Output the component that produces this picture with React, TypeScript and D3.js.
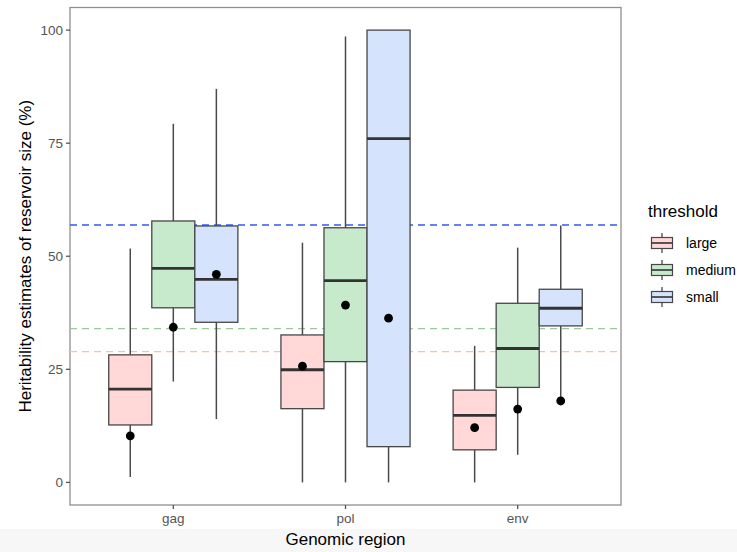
import React from 'react';
import * as d3 from 'd3';

// genomic regions (x) and dodge groups
const regions = ['gag', 'pol', 'env'];
const thresholds = ['large', 'medium', 'small'];
const fills = ['#ffd8d7', '#c6eacb', '#d5e3fd'];

// per region: [lower whisker, q1, median, q3, upper whisker, mean]
const largeStats = [
    [1.2, 12.7, 20.6, 28.2, 51.7, 10.3],
    [0, 16.3, 24.9, 32.6, 53.0, 25.7],
    [0, 7.2, 14.8, 20.4, 30.2, 12.1],
];
const mediumStats = [
    [22.3, 38.6, 47.3, 57.8, 79.3, 34.3],
    [0, 26.7, 44.6, 56.3, 98.6, 39.2],
    [6.1, 21.0, 29.6, 39.6, 51.9, 16.2],
];
const smallStats = [
    [14.0, 35.4, 44.9, 56.7, 87.0, 46.0],
    [0, 7.9, 76.0, 100, 100, 36.3],
    [18.0, 34.6, 38.5, 42.7, 56.8, 18.0],
];

// dashed reference lines
const refValues = [28.9, 34.0, 56.9];
const refColors = ['#f3c3a4', '#9cc89c', '#3358f4'];

const yTicks = [0, 25, 50, 75, 100];

const font = '"Liberation Sans", Arial, Helvetica, sans-serif';

export default function App() {
    const width = 737,
        height = 552;
    const left = 70,
        right = 621,
        top = 7.5,
        bottom = 505;

    const x = d3.scalePoint<string>().domain(regions).range([left, right]).padding(0.6);
    const step = x.step();
    const dodge = d3.scaleBand<string>()
        .domain(thresholds)
        .range([-0.375 * step, 0.375 * step]);
    const y = d3.scaleLinear().domain([-5, 105]).range([bottom, top]);

    const allStats = [largeStats, mediumStats, smallStats];

    return (
        <svg width={width} height={height} style={{ display: 'block', position: 'absolute', left: 0, top: 0 }}
            fontFamily={font}>
            <rect width={width} height={height} fill="#fff" />
            <rect y={529} width={width} height={height - 529} fill="#f7f7f7" />

            {/* panel border */}
            <rect x={left} y={top} width={right - left} height={bottom - top}
                fill="none" stroke="#8f8f8f" strokeWidth={1.3} />

            {/* reference lines */}
            {refValues.map((v, i) => (
                <line key={'ref' + i} x1={left} x2={right} y1={y(v)} y2={y(v)}
                    stroke={refColors[i]} strokeWidth={i === 2 ? 1.6 : 1.3} strokeDasharray="7,5" />
            ))}

            {/* boxes */}
            {thresholds.map((t, ti) => allStats[ti].map((s, ri) => {
                const cx = (x(regions[ri]) as number) + (dodge(t) as number) + dodge.bandwidth() / 2;
                const bw = dodge.bandwidth();
                const [lo, q1, med, q3, hi, mean] = s;
                return (
                    <g key={t + ri}>
                        <line x1={cx} x2={cx} y1={y(hi)} y2={y(q3)} stroke="#4a4a4a" strokeWidth={1.5} />
                        <line x1={cx} x2={cx} y1={y(q1)} y2={y(lo)} stroke="#4a4a4a" strokeWidth={1.5} />
                        <rect x={cx - bw / 2} y={y(q3)} width={bw} height={y(q1) - y(q3)}
                            fill={fills[ti]} stroke="#474747" strokeWidth={1.3} />
                        <line x1={cx - bw / 2} x2={cx + bw / 2} y1={y(med)} y2={y(med)}
                            stroke="#333" strokeWidth={2.8} />
                        <circle cx={cx} cy={y(mean)} r={4.4} fill="#000" />
                    </g>
                );
            }))}

            {/* y axis */}
            {yTicks.map(v => (
                <g key={'yt' + v}>
                    <line x1={left - 4} x2={left} y1={y(v)} y2={y(v)} stroke="#555" strokeWidth={1.3} />
                    <text x={left - 7} y={y(v)} dy="0.35em" textAnchor="end" fontSize={13.5} fill="#555">{v}</text>
                </g>
            ))}
            <text transform={`translate(31,${(top + bottom) / 2}) rotate(-90)`} textAnchor="middle"
                fontSize={17} fill="#000">Heritability estimates of reservoir size (%)</text>

            {/* x axis */}
            {regions.map(r => (
                <g key={'xt' + r}>
                    <line x1={x(r)} x2={x(r)} y1={bottom} y2={bottom + 4} stroke="#555" strokeWidth={1.3} />
                    <text x={x(r)} y={523} textAnchor="middle" fontSize={13.5} fill="#555">{r}</text>
                </g>
            ))}
            <text x={(left + right) / 2} y={545} textAnchor="middle" fontSize={17} fill="#000">Genomic region</text>

            {/* legend */}
            <text x={648} y={217} fontSize={17} fill="#000">threshold</text>
            {thresholds.map((t, i) => {
                const cy = 243 + i * 27;
                const kx = 662;
                return (
                    <g key={'lg' + t}>
                        <line x1={kx} x2={kx} y1={cy - 10} y2={cy + 10} stroke="#4a4a4a" strokeWidth={1.3} />
                        <rect x={kx - 10.5} y={cy - 5.5} width={21} height={11}
                            fill={fills[i]} stroke="#474747" strokeWidth={1.2} />
                        <line x1={kx - 10.5} x2={kx + 10.5} y1={cy} y2={cy} stroke="#333" strokeWidth={1.6} />
                        <text x={686} y={cy} dy="0.35em" fontSize={14} fill="#000">{t}</text>
                    </g>
                );
            })}
        </svg>
    );
}
